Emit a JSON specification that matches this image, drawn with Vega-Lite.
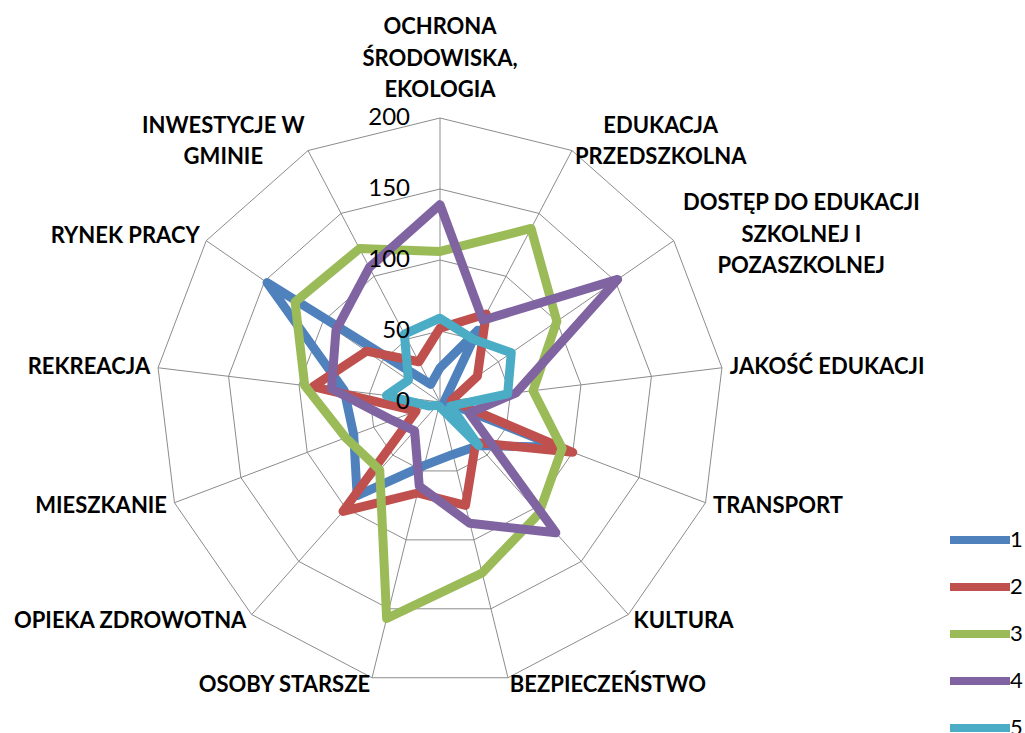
{
  "$schema": "https://vega.github.io/schema/vega-lite/v6.json",
  "width": 1025,
  "height": 733,
  "autosize": "none",
  "padding": 0,
  "background": "white",
  "config": {"view": {"stroke": null}, "font": "Lato"},
  "datasets": {
    "cats": [
      {"idx": 0, "label": ["OCHRONA", "ŚRODOWISKA,", "EKOLOGIA"]},
      {"idx": 1, "label": ["EDUKACJA", "PRZEDSZKOLNA"]},
      {"idx": 2, "label": ["DOSTĘP DO EDUKACJI", "SZKOLNEJ I", "POZASZKOLNEJ"]},
      {"idx": 3, "label": "JAKOŚĆ EDUKACJI"},
      {"idx": 4, "label": "TRANSPORT"},
      {"idx": 5, "label": "KULTURA"},
      {"idx": 6, "label": "BEZPIECZEŃSTWO"},
      {"idx": 7, "label": "OSOBY STARSZE"},
      {"idx": 8, "label": "OPIEKA ZDROWOTNA"},
      {"idx": 9, "label": "MIESZKANIE"},
      {"idx": 10, "label": "REKREACJA"},
      {"idx": 11, "label": "RYNEK PRACY"},
      {"idx": 12, "label": ["INWESTYCJE W", "GMINIE"]}
    ],
    "ticks": [{"v": 0}, {"v": 50}, {"v": 100}, {"v": 150}, {"v": 200}],
    "series": [
      {"series": "1", "idx": 0, "value": 24}, {"series": "1", "idx": 1, "value": 57}, {"series": "1", "idx": 2, "value": 5}, {"series": "1", "idx": 3, "value": 3}, {"series": "1", "idx": 4, "value": 90}, {"series": "1", "idx": 5, "value": 41}, {"series": "1", "idx": 6, "value": 38}, {"series": "1", "idx": 7, "value": 46}, {"series": "1", "idx": 8, "value": 88}, {"series": "1", "idx": 9, "value": 65}, {"series": "1", "idx": 10, "value": 68}, {"series": "1", "idx": 11, "value": 148}, {"series": "1", "idx": 12, "value": 14},
      {"series": "2", "idx": 0, "value": 52}, {"series": "2", "idx": 1, "value": 70}, {"series": "2", "idx": 2, "value": 32}, {"series": "2", "idx": 3, "value": 8}, {"series": "2", "idx": 4, "value": 100}, {"series": "2", "idx": 5, "value": 38}, {"series": "2", "idx": 6, "value": 75}, {"series": "2", "idx": 7, "value": 66}, {"series": "2", "idx": 8, "value": 103}, {"series": "2", "idx": 9, "value": 18}, {"series": "2", "idx": 10, "value": 90}, {"series": "2", "idx": 11, "value": 63}, {"series": "2", "idx": 12, "value": 32},
      {"series": "3", "idx": 0, "value": 106}, {"series": "3", "idx": 1, "value": 138}, {"series": "3", "idx": 2, "value": 100}, {"series": "3", "idx": 3, "value": 66}, {"series": "3", "idx": 4, "value": 92}, {"series": "3", "idx": 5, "value": 105}, {"series": "3", "idx": 6, "value": 124}, {"series": "3", "idx": 7, "value": 157}, {"series": "3", "idx": 8, "value": 64}, {"series": "3", "idx": 9, "value": 71}, {"series": "3", "idx": 10, "value": 96}, {"series": "3", "idx": 11, "value": 124}, {"series": "3", "idx": 12, "value": 122},
      {"series": "4", "idx": 0, "value": 139}, {"series": "4", "idx": 1, "value": 65}, {"series": "4", "idx": 2, "value": 152}, {"series": "4", "idx": 3, "value": 54}, {"series": "4", "idx": 4, "value": 22}, {"series": "4", "idx": 5, "value": 123}, {"series": "4", "idx": 6, "value": 88}, {"series": "4", "idx": 7, "value": 61}, {"series": "4", "idx": 8, "value": 27}, {"series": "4", "idx": 9, "value": 36}, {"series": "4", "idx": 10, "value": 77}, {"series": "4", "idx": 11, "value": 89}, {"series": "4", "idx": 12, "value": 107},
      {"series": "5", "idx": 0, "value": 59}, {"series": "5", "idx": 1, "value": 50}, {"series": "5", "idx": 2, "value": 61}, {"series": "5", "idx": 3, "value": 48}, {"series": "5", "idx": 4, "value": 8}, {"series": "5", "idx": 5, "value": 41}, {"series": "5", "idx": 6, "value": 5}, {"series": "5", "idx": 7, "value": 3}, {"series": "5", "idx": 8, "value": 3}, {"series": "5", "idx": 9, "value": 8}, {"series": "5", "idx": 10, "value": 38}, {"series": "5", "idx": 11, "value": 27}, {"series": "5", "idx": 12, "value": 54}
    ]
  },
  "encoding": {
    "x": {"field": "x", "type": "quantitative", "scale": {"domain": [-309.86, 411.97], "nice": false, "zero": false}, "axis": null},
    "y": {"field": "y", "type": "quantitative", "scale": {"domain": [-233.1, 283.1], "nice": false, "zero": false}, "axis": null}
  },
  "layer": [
    {
      "data": {"name": "cats"},
      "transform": [
        {"calculate": "[50, 100, 150, 200]", "as": "rings"},
        {"flatten": ["rings"]},
        {"calculate": "datum.rings * sin(datum.idx * 2 * PI / 13)", "as": "x"},
        {"calculate": "datum.rings * cos(datum.idx * 2 * PI / 13)", "as": "y"},
        {"calculate": "datum.rings * sin((datum.idx + 1) * 2 * PI / 13)", "as": "x2"},
        {"calculate": "datum.rings * cos((datum.idx + 1) * 2 * PI / 13)", "as": "y2"}
      ],
      "mark": {"type": "rule", "color": "#8c8c8c", "strokeWidth": 1},
      "encoding": {"x2": {"field": "x2"}, "y2": {"field": "y2"}}
    },
    {
      "data": {"name": "cats"},
      "transform": [
        {"calculate": "0", "as": "x"},
        {"calculate": "0", "as": "y"},
        {"calculate": "200 * sin(datum.idx * 2 * PI / 13)", "as": "x2"},
        {"calculate": "200 * cos(datum.idx * 2 * PI / 13)", "as": "y2"}
      ],
      "mark": {"type": "rule", "color": "#8c8c8c", "strokeWidth": 1},
      "encoding": {"x2": {"field": "x2"}, "y2": {"field": "y2"}}
    },
    {
      "data": {"name": "series"},
      "transform": [
        {"calculate": "datum.value * sin(datum.idx * 2 * PI / 13)", "as": "x"},
        {"calculate": "datum.value * cos(datum.idx * 2 * PI / 13)", "as": "y"}
      ],
      "mark": {"type": "line", "interpolate": "linear-closed", "strokeWidth": 9, "strokeJoin": "round", "strokeCap": "round"},
      "encoding": {
        "order": {"field": "idx", "type": "quantitative"},
        "color": {
          "field": "series", "type": "nominal",
          "scale": {"domain": ["1", "2", "3", "4", "5"], "range": ["#4F81BD", "#C0504D", "#9BBB59", "#8064A2", "#4BACC6"]},
          "legend": {
            "title": null, "orient": "none", "legendX": 946, "legendY": 525,
            "symbolType": "stroke", "symbolSize": 3600, "symbolStrokeWidth": 8,
            "labelFontSize": 22, "labelFont": "Lato", "labelColor": "#000000", "labelOffset": -4,
            "clipHeight": 30, "rowPadding": 17, "padding": 0
          }
        }
      }
    },
    {
      "data": {"name": "ticks"},
      "transform": [
        {"calculate": "0", "as": "x"},
        {"calculate": "datum.v", "as": "y"}
      ],
      "mark": {"type": "text", "align": "right", "baseline": "middle", "dx": -30, "fontSize": 24, "color": "#000000"},
      "encoding": {"text": {"field": "v", "type": "quantitative"}}
    },
    {
      "data": {"name": "cats"},
      "transform": [
        {"filter": "datum.idx >= 3 && datum.idx <= 6"},
        {"calculate": "205.6 * sin(datum.idx * 2 * PI / 13)", "as": "x"},
        {"calculate": "205.6 * cos(datum.idx * 2 * PI / 13)", "as": "y"}
      ],
      "mark": {"type": "text", "align": "left", "baseline": "middle", "fontSize": 22, "fontWeight": "bold", "color": "#000000"},
      "encoding": {"text": {"field": "label", "type": "nominal"}}
    },
    {
      "data": {"name": "cats"},
      "transform": [
        {"filter": "datum.idx >= 7 && datum.idx <= 11"},
        {"calculate": "205.6 * sin(datum.idx * 2 * PI / 13)", "as": "x"},
        {"calculate": "205.6 * cos(datum.idx * 2 * PI / 13)", "as": "y"}
      ],
      "mark": {"type": "text", "align": "right", "baseline": "middle", "fontSize": 22, "fontWeight": "bold", "color": "#000000"},
      "encoding": {"text": {"field": "label", "type": "nominal"}}
    },
    {
      "data": {"name": "cats"},
      "transform": [
        {"filter": "datum.idx == 0"},
        {"calculate": "205.6 * sin(datum.idx * 2 * PI / 13)", "as": "x"},
        {"calculate": "205.6 * cos(datum.idx * 2 * PI / 13)", "as": "y"}
      ],
      "mark": {"type": "text", "align": "center", "baseline": "middle", "dy": -83, "lineHeight": 31.5, "fontSize": 22, "fontWeight": "bold", "color": "#000000"},
      "encoding": {"text": {"field": "label", "type": "nominal"}}
    },
    {
      "data": {"name": "cats"},
      "transform": [
        {"filter": "datum.idx == 1"},
        {"calculate": "205.6 * sin(datum.idx * 2 * PI / 13)", "as": "x"},
        {"calculate": "205.6 * cos(datum.idx * 2 * PI / 13)", "as": "y"}
      ],
      "mark": {"type": "text", "align": "center", "baseline": "middle", "dx": 85, "dy": -17, "lineHeight": 31, "fontSize": 22, "fontWeight": "bold", "color": "#000000"},
      "encoding": {"text": {"field": "label", "type": "nominal"}}
    },
    {
      "data": {"name": "cats"},
      "transform": [
        {"filter": "datum.idx == 2"},
        {"calculate": "205.6 * sin(datum.idx * 2 * PI / 13)", "as": "x"},
        {"calculate": "205.6 * cos(datum.idx * 2 * PI / 13)", "as": "y"}
      ],
      "mark": {"type": "text", "align": "center", "baseline": "middle", "dx": 121, "dy": -33, "lineHeight": 31.5, "fontSize": 22, "fontWeight": "bold", "color": "#000000"},
      "encoding": {"text": {"field": "label", "type": "nominal"}}
    },
    {
      "data": {"name": "cats"},
      "transform": [
        {"filter": "datum.idx == 12"},
        {"calculate": "205.6 * sin(datum.idx * 2 * PI / 13)", "as": "x"},
        {"calculate": "205.6 * cos(datum.idx * 2 * PI / 13)", "as": "y"}
      ],
      "mark": {"type": "text", "align": "center", "baseline": "middle", "dx": -81, "dy": -17, "lineHeight": 31, "fontSize": 22, "fontWeight": "bold", "color": "#000000"},
      "encoding": {"text": {"field": "label", "type": "nominal"}}
    }
  ]
}
